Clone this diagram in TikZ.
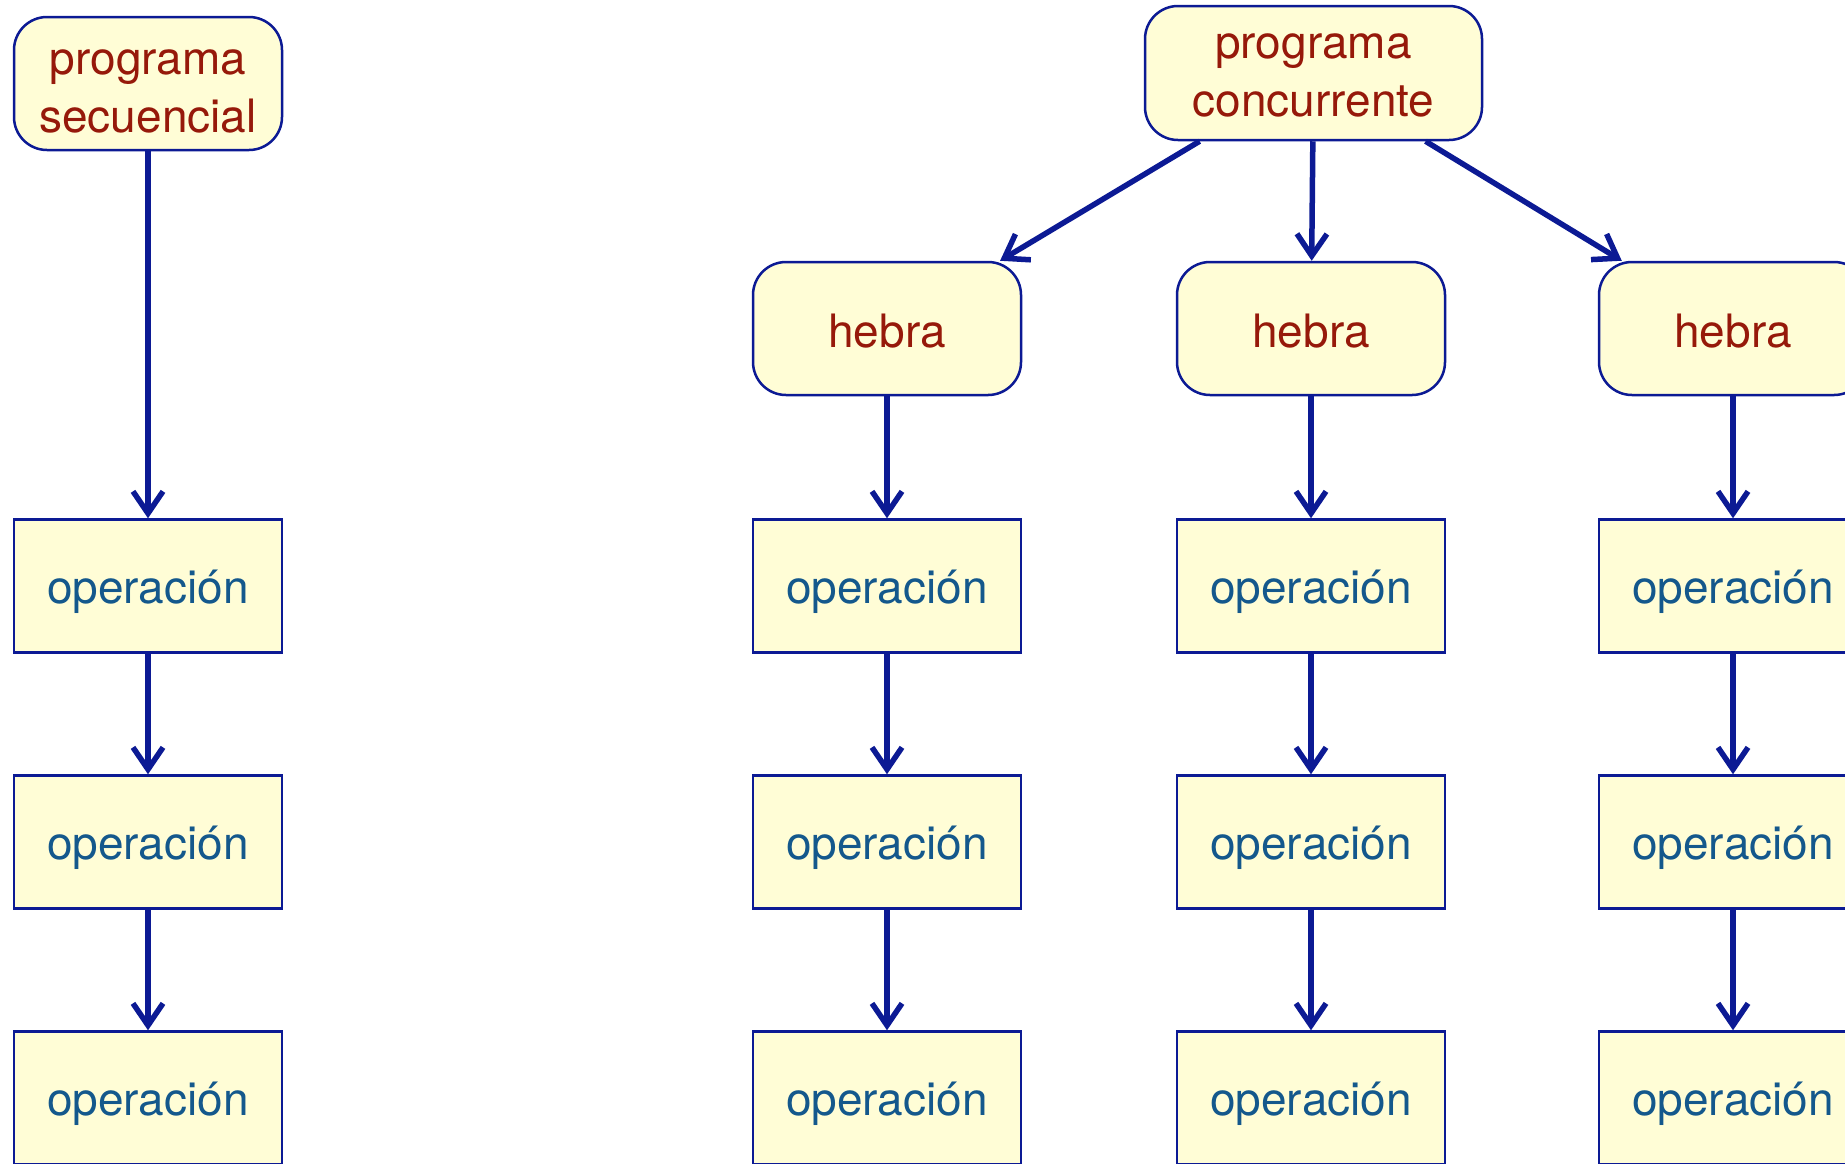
\documentclass[tikz,border=0pt]{standalone}
\usepackage{fontspec}
\setmainfont{TeX Gyre Heros}
\usetikzlibrary{arrows.meta}
\definecolor{edgeblue}{RGB}{12,26,148}
\definecolor{boxfill}{RGB}{255,253,214}
\definecolor{redtext}{RGB}{150,25,10}
\definecolor{bluetext}{RGB}{20,88,140}
\newcommand{\twolines}[2]{\begin{tabular}[b]{@{}c@{}}#1\\#2\end{tabular}}
\tikzset{
  base/.style={draw=edgeblue, fill=boxfill, line width=1.25pt, inner sep=0pt,
    minimum width=134pt, minimum height=66.5pt,
    font=\fontsize{23}{29}\selectfont},
  prog/.style={base, rounded corners=16.5pt, text=redtext},
  threadbox/.style={prog, text height=21pt, text depth=2pt},
  opbox/.style={base, text=bluetext, text height=20pt, text depth=3pt},
  conn/.style={draw=edgeblue, line width=2.75pt,
    -{Straight Barb[length=11pt,width=15pt,line width=2.75pt]}}
}
\begin{document}
\begin{tikzpicture}[x=0.5pt,y=-0.5pt]
\useasboundingbox (0,0) rectangle (1845,1163);
\clip (0,0) rectangle (1845,1163);
% sequential
\node[prog, text height=49.2pt, text depth=0pt] (ps) at (148,83.5)
  {\twolines{programa}{secuencial}};
\node[opbox] (s1) at (148,586) {operación};
\node[opbox] (s2) at (148,842) {operación};
\node[opbox] (s3) at (148,1098) {operación};
\draw[conn] (ps) -- (s1);
\draw[conn] (s1) -- (s2);
\draw[conn] (s2) -- (s3);
% concurrent
\node[prog, minimum width=168.5pt, minimum height=67pt, text height=43pt, text depth=0pt]
  (pc) at (1313.5,73) {\twolines{programa}{concurrente}};
\foreach \i/\x in {1/887,2/1311,3/1733}{
  \node[threadbox] (h\i) at (\x,328.5) {hebra};
  \node[opbox] (a\i) at (\x,586) {operación};
  \node[opbox] (b\i) at (\x,842) {operación};
  \node[opbox] (c\i) at (\x,1098) {operación};
  \draw[conn] (pc) -- (h\i);
  \draw[conn] (h\i) -- (a\i);
  \draw[conn] (a\i) -- (b\i);
  \draw[conn] (b\i) -- (c\i);
}
\end{tikzpicture}
\end{document}
